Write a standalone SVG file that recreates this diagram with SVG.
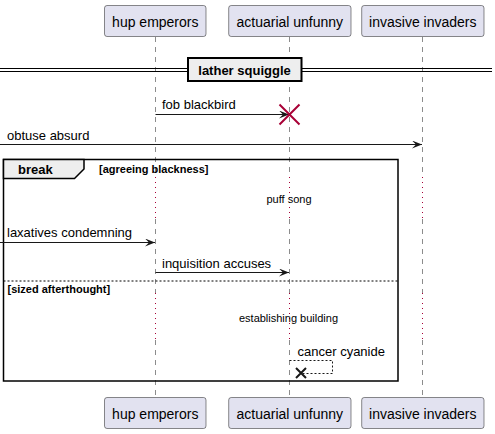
<svg xmlns="http://www.w3.org/2000/svg" width="495" height="434" viewBox="0 0 495 434">
<style>
text{font-family:"Liberation Sans",Arial,sans-serif;fill:#000}
.p{fill:#E2E2F0;stroke:#181818;stroke-width:0.5}
.pt{font-size:14px;text-anchor:middle}
.m{font-size:13px}
.ll{stroke:#181818;stroke-width:0.5;stroke-dasharray:5,5;fill:none}
.dl{stroke:#A80036;stroke-width:1;stroke-dasharray:1,4;fill:none}
.msg{stroke:#181818;stroke-width:1;fill:none}
.ah{fill:#181818;stroke:#181818;stroke-width:1}
.b{font-weight:bold}
</style>
<defs>
<marker id="arr" viewBox="0 0 10 8" refX="10" refY="4" markerWidth="10" markerHeight="8" markerUnits="userSpaceOnUse" orient="auto">
<polygon points="0,0 10,4 0,8 4,4" fill="#181818"/>
</marker>
</defs>
<g id="lifelines">
<path class="ll" d="M155.5,37V177M155.5,219V293M155.5,340V397"/>
<path class="ll" d="M289.5,37V177M289.5,219V293M289.5,340V397"/>
<path class="ll" d="M422.5,37V177M422.5,219V293M422.5,340V397"/>
<path class="dl" d="M155.5,177V219M289.5,177V219M422.5,177V219M155.5,293V340M289.5,293V340M422.5,293V340"/>
</g>
<g id="divider">
<line x1="0" y1="68.5" x2="492" y2="68.5" stroke="#000" stroke-width="1"/>
<line x1="0" y1="71.5" x2="492" y2="71.5" stroke="#000" stroke-width="1"/>
<rect x="188" y="58" width="113.5" height="23" fill="#EEEEEE" stroke="#000" stroke-width="2"/>
<text class="m b" x="244.5" y="75" text-anchor="middle">lather squiggle</text>
</g>
<g id="break-frame">
<rect x="3.5" y="159.5" width="394.5" height="221.5" fill="none" stroke="#000" stroke-width="1.5"/>
<path d="M3.5,159.5H84V169L74.5,178.5H3.5Z" fill="#EEEEEE" stroke="#000" stroke-width="1.5"/>
<text class="m b" x="18" y="173.5">break</text>
<text class="b" x="99" y="172.5" font-size="11">[agreeing blackness]</text>
<line x1="3.5" y1="281" x2="398" y2="281" stroke="#000" stroke-width="1" stroke-dasharray="2,2"/>
<text class="b" x="7.5" y="292.5" font-size="11">[sized afterthought]</text>
<text x="289" y="203" font-size="11" text-anchor="middle">puff song</text>
<text x="288.5" y="322" font-size="11" text-anchor="middle">establishing building</text>
</g>
<g id="connectors">
<line class="msg" x1="155.5" y1="114.5" x2="289" y2="114.5" marker-end="url(#arr)"/>
<text class="m" x="162" y="109">fob blackbird</text>
<path d="M279.5,104.5L299.5,124.5M279.5,124.5L299.5,104.5" stroke="#A80036" stroke-width="2"/>
<line class="msg" x1="0" y1="144.5" x2="422" y2="144.5" marker-end="url(#arr)"/>
<text class="m" x="7" y="140">obtuse absurd</text>
<line class="msg" x1="0" y1="242.5" x2="155" y2="242.5" marker-end="url(#arr)"/>
<text class="m" x="7" y="237">laxatives condemning</text>
<line class="msg" x1="155.5" y1="272.5" x2="289" y2="272.5" marker-end="url(#arr)"/>
<text class="m" x="162" y="268">inquisition accuses</text>
<path d="M289.5,360.5H332.5V373.5H302" fill="none" stroke="#181818" stroke-width="1" stroke-dasharray="2,2"/>
<path d="M296,368L306,378M296,378L306,368" stroke="#181818" stroke-width="2"/>
<text class="m" x="297.5" y="356">cancer cyanide</text>
</g>
<g id="p-hup">
<rect class="p" x="104.5" y="5.5" width="101.5" height="31" rx="2.5"/>
<text class="pt" x="155.3" y="26.5">hup emperors</text>
<rect class="p" x="104.5" y="397.5" width="101.5" height="31" rx="2.5"/>
<text class="pt" x="155.3" y="418.5">hup emperors</text>
</g>
<g id="p-actuarial">
<rect class="p" x="228.7" y="5.5" width="122.3" height="31" rx="2.5"/>
<text class="pt" x="289.8" y="26.5">actuarial unfunny</text>
<rect class="p" x="228.7" y="397.5" width="122.3" height="31" rx="2.5"/>
<text class="pt" x="289.8" y="418.5">actuarial unfunny</text>
</g>
<g id="p-invasive">
<rect class="p" x="361.7" y="5.5" width="122.3" height="31" rx="2.5"/>
<text class="pt" x="422.8" y="26.5">invasive invaders</text>
<rect class="p" x="361.7" y="397.5" width="122.3" height="31" rx="2.5"/>
<text class="pt" x="422.8" y="418.5">invasive invaders</text>
</g>
</svg>
